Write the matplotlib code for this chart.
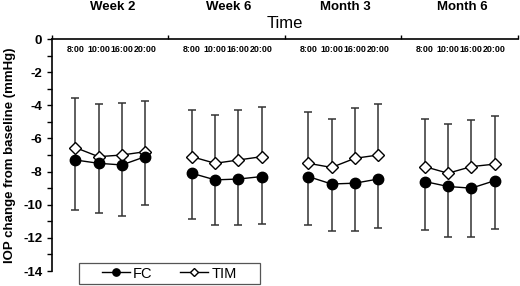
import numpy as np
import matplotlib.pyplot as plt
from matplotlib import patches

plt.rcParams['font.family'] = ['Liberation Sans', 'DejaVu Sans']

groups = ["Week 2", "Week 6", "Month 3", "Month 6"]
times = ["8:00", "10:00", "16:00", "20:00"]

# mean change from baseline (mmHg)
fc_mean = [-7.3, -7.5, -7.6, -7.1,
           -8.1, -8.5, -8.45, -8.3,
           -8.3, -8.75, -8.7, -8.45,
           -8.6, -8.9, -9.0, -8.55]
tim_mean = [-6.55, -7.1, -7.0, -6.8,
            -7.1, -7.5, -7.3, -7.1,
            -7.5, -7.75, -7.2, -7.0,
            -7.7, -8.1, -7.7, -7.55]
# SD (FC drawn downward, TIM drawn upward)
fc_sd = [3.0, 3.0, 3.1, 2.9,
         2.75, 2.75, 2.75, 2.85,
         2.9, 2.85, 2.9, 2.95,
         2.95, 3.05, 2.95, 2.9]
tim_sd = [3.0, 3.15, 3.15, 3.05,
          2.8, 2.9, 3.0, 3.0,
          3.1, 2.95, 3.05, 3.05,
          2.9, 2.95, 2.8, 2.9]

x = np.array([g * 5 + t + 1 for g in range(4) for t in range(4)], dtype=float)

fig = plt.figure(figsize=(5.2, 2.86), dpi=100)
ax = fig.add_axes([0.1, 0.0524, 0.896, 0.8112])

zeros = np.zeros(len(x))
for g in range(4):
    s = slice(g * 4, g * 4 + 4)
    ax.errorbar(x[s], np.array(tim_mean[s]), yerr=[zeros[s], np.array(tim_sd[s])],
                fmt='none', ecolor='#333333', elinewidth=1.1, capsize=2.8, capthick=1.1, zorder=1)
    ax.errorbar(x[s], np.array(fc_mean[s]), yerr=[np.array(fc_sd[s]), zeros[s]],
                fmt='none', ecolor='#333333', elinewidth=1.1, capsize=2.8, capthick=1.1, zorder=1)
    ax.plot(x[s], fc_mean[s], '-o', color='black', mfc='black', mec='black',
            ms=7.5, lw=1, zorder=3, label='FC' if g == 0 else None)
    ax.plot(x[s], tim_mean[s], '-D', color='black', mfc='white', mec='black',
            ms=6.5, mew=1, lw=1, zorder=2, label='TIM' if g == 0 else None)

ax.set_xlim(0, 20)
ax.set_ylim(-14, 0)
ax.spines['right'].set_visible(False)
ax.spines['bottom'].set_visible(False)
ax.spines['top'].set_linewidth(1.2)
ax.spines['left'].set_linewidth(1.2)

ax.set_yticks(np.arange(-14, 1, 2))
ax.set_yticks(np.arange(-13, 0, 2), minor=True)
ax.set_yticklabels([str(v) for v in range(-14, 1, 2)], fontsize=9.5, fontweight='bold')
ax.tick_params(axis='y', which='both', direction='out', length=3.5, width=1)

ax.xaxis.tick_top()
ax.set_xticks(x)
ax.set_xticklabels(times * 4, fontsize=6.4, fontweight='bold')
ax.set_xticks([0, 5, 10, 15, 20], minor=True)
ax.tick_params(axis='x', which='major', length=0, pad=-10.5)
ax.tick_params(axis='x', which='minor', direction='out', length=3, width=1)

for g, name in enumerate(groups):
    ax.text(g * 5 + 2.6, 1.138, name, transform=ax.get_xaxis_transform(),
            ha='center', va='center', fontsize=9.5, fontweight='bold')
ax.text(10, 1.065, "Time", transform=ax.get_xaxis_transform(),
        ha='center', va='center', fontsize=12)

ax.set_ylabel("IOP change from baseline (mmHg)", fontsize=9.5, fontweight='bold', labelpad=5)

# legend box drawn as a plain rectangle in figure pixels
box = patches.Rectangle((79 / 520, 1 - 284 / 286), 181 / 520, 21 / 286,
                        transform=fig.transFigure, facecolor='white',
                        edgecolor='#555555', lw=0.9, zorder=5)
fig.patches.append(box)
handles, labels = ax.get_legend_handles_labels()
leg = fig.legend(handles, labels, loc='center', bbox_to_anchor=(169.5 / 520, 1 - 273.5 / 286),
                 ncol=2, frameon=False, fontsize=10.5,
                 markerscale=0.7, handlelength=1.9, columnspacing=1.9,
                 borderpad=0.0, handletextpad=0.25)
leg.set_zorder(7)

fig.savefig("out.png", dpi=100)
